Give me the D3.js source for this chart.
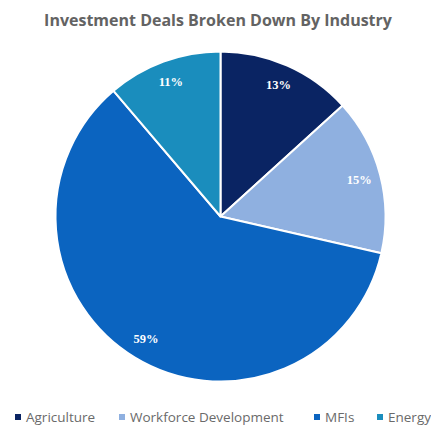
<!DOCTYPE html>
<html>
<head>
<meta charset="utf-8">
<script src="https://cdn.jsdelivr.net/npm/d3@7"></script>
<style>
  html, body { margin: 0; padding: 0; background: #fff; }
  svg { display: block; }
</style>
</head>
<body>
<svg id="chart" width="431" height="427"></svg>
<script>
// Industry breakdown of investment deals
const categories = ["Agriculture", "Workforce Development", "MFIs", "Energy"];
const shares = [13, 15, 59, 11];
const labels = ["13%", "15%", "59%", "11%"];
const colors = ["#0a2463", "#8fb0e0", "#0b64c0", "#1a8dbd"];

const svg = d3.select("#chart");
const cx = 220.5, cy = 216.5, R = 165;

svg.append("text")
  .attr("x", 218).attr("y", 26)
  .attr("text-anchor", "middle")
  .attr("font-family", "'Open Sans', sans-serif")
  .attr("font-weight", "bold")
  .attr("font-size", 16)
  .attr("fill", "#636363")
  .text("Investment Deals Broken Down By Industry");

const color = d3.scaleOrdinal().domain(categories).range(colors);

const pie = d3.pie().sort(null).value(d => d.v);
const data = categories.map((c, i) => ({ c, v: shares[i], label: labels[i] }));
const arcs = pie(data);

const arc = d3.arc().innerRadius(0).outerRadius(R);
const labelArc = d3.arc().innerRadius(R * 0.87).outerRadius(R * 0.87);

const g = svg.append("g").attr("transform", `translate(${cx},${cy})`);

g.selectAll("path.slice")
  .data(arcs)
  .join("path")
  .attr("class", "slice")
  .attr("d", arc)
  .attr("fill", d => color(d.data.c))
  .attr("stroke", "#ffffff")
  .attr("stroke-width", 2)
  .attr("stroke-linejoin", "round");

g.selectAll("text.val")
  .data(arcs)
  .join("text")
  .attr("class", "val")
  .attr("transform", d => `translate(${labelArc.centroid(d)})`)
  .attr("text-anchor", "middle")
  .attr("dominant-baseline", "central")
  .attr("font-family", "'Liberation Serif', serif")
  .attr("font-weight", "bold")
  .attr("font-size", 12.5)
  .attr("fill", "#ffffff")
  .text(d => d.data.label);

// Legend row along the bottom
const legendX = [15, 119, 314, 377];
const legend = svg.append("g");
const items = legend.selectAll("g.item")
  .data(categories)
  .join("g")
  .attr("class", "item")
  .attr("transform", (d, i) => `translate(${legendX[i]},417)`);

items.append("rect")
  .attr("x", 0).attr("y", -3)
  .attr("width", 6).attr("height", 6)
  .attr("fill", d => color(d));

items.append("text")
  .attr("x", 11).attr("y", 0)
  .attr("dominant-baseline", "central")
  .attr("font-family", "'Open Sans', sans-serif")
  .attr("font-size", 13.5)
  .attr("fill", "#6a6a6a")
  .text(d => d);
</script>
</body>
</html>
